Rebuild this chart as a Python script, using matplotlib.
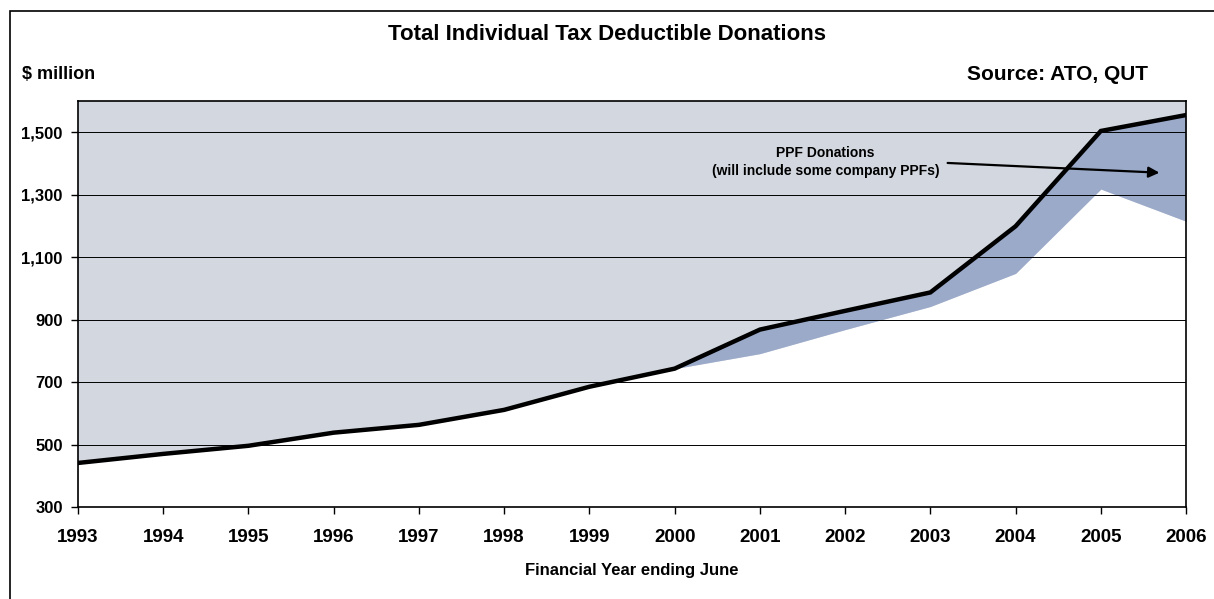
import matplotlib.pyplot as plt
from matplotlib.patches import Rectangle

plt.rcParams['font.family'] = ['Liberation Sans', 'DejaVu Sans']
plt.rcParams['font.weight'] = 'bold'

# Data
years = [1993, 1994, 1995, 1996, 1997, 1998, 1999, 2000, 2001, 2002, 2003, 2004, 2005, 2006]
total = [441, 470, 496, 538, 563, 611, 685, 743, 868, 928, 987, 1199, 1504, 1555]
excl_ppf = [441, 470, 496, 538, 563, 611, 685, 743, 791, 868, 942, 1048, 1318, 1215]

fig = plt.figure(figsize=(12.14, 5.99), dpi=100)
ax = fig.add_axes([0.0642, 0.1536, 0.9128, 0.6778])

ax.set_facecolor('#D3D8E0')
ax.fill_between(years, 300, excl_ppf, color='white', lw=0, zorder=1)
ax.fill_between(years, excl_ppf, total, color='#9BAAC9', lw=0, zorder=1)
ax.plot(years, total, color='black', lw=3.2, zorder=3, solid_joinstyle='miter')

ax.set_xlim(1993, 2006)
ax.set_ylim(300, 1600)
ax.set_xticks(years)
ax.set_yticks(range(300, 1600, 200))
ax.set_yticklabels(['{:,}'.format(v) for v in range(300, 1600, 200)])
ax.grid(axis='y', color='black', lw=0.7, zorder=2)
ax.set_axisbelow(False)
ax.tick_params(axis='y', labelsize=12, length=5, width=1, direction='out', pad=6)
ax.tick_params(axis='x', labelsize=13.5, length=5, width=1, direction='out', pad=11)
for s in ax.spines.values():
    s.set_linewidth(1.2)
    s.set_zorder(4)
for lab in ax.get_xticklabels() + ax.get_yticklabels():
    lab.set_fontweight('bold')

ax.set_xlabel('Financial Year ending June', fontsize=12, fontweight='bold', labelpad=12)

fig.text(0.5, 0.942, 'Total Individual Tax Deductible Donations', ha='center', va='center',
         fontsize=16, fontweight='bold')
fig.text(0.018, 0.875, '$ million', ha='left', va='center', fontsize=13, fontweight='bold')
fig.text(0.946, 0.875, 'Source: ATO, QUT', ha='right', va='center', fontsize=15, fontweight='bold')

ax.text(2001.77, 1406, 'PPF Donations\n(will include some company PPFs)', ha='center', va='center',
        fontsize=10, fontweight='bold', linespacing=1.35)
ax.annotate('', xy=(2005.72, 1370), xytext=(2003.17, 1402),
            arrowprops=dict(arrowstyle='-|>', color='black', lw=1.6, mutation_scale=16))

fig.patches.append(Rectangle((10 / 1214, -0.05), 1.1, 1.05 - 11 / 599, transform=fig.transFigure,
                             fill=False, edgecolor='black', lw=1.2))

fig.savefig('out.png', dpi=100)
